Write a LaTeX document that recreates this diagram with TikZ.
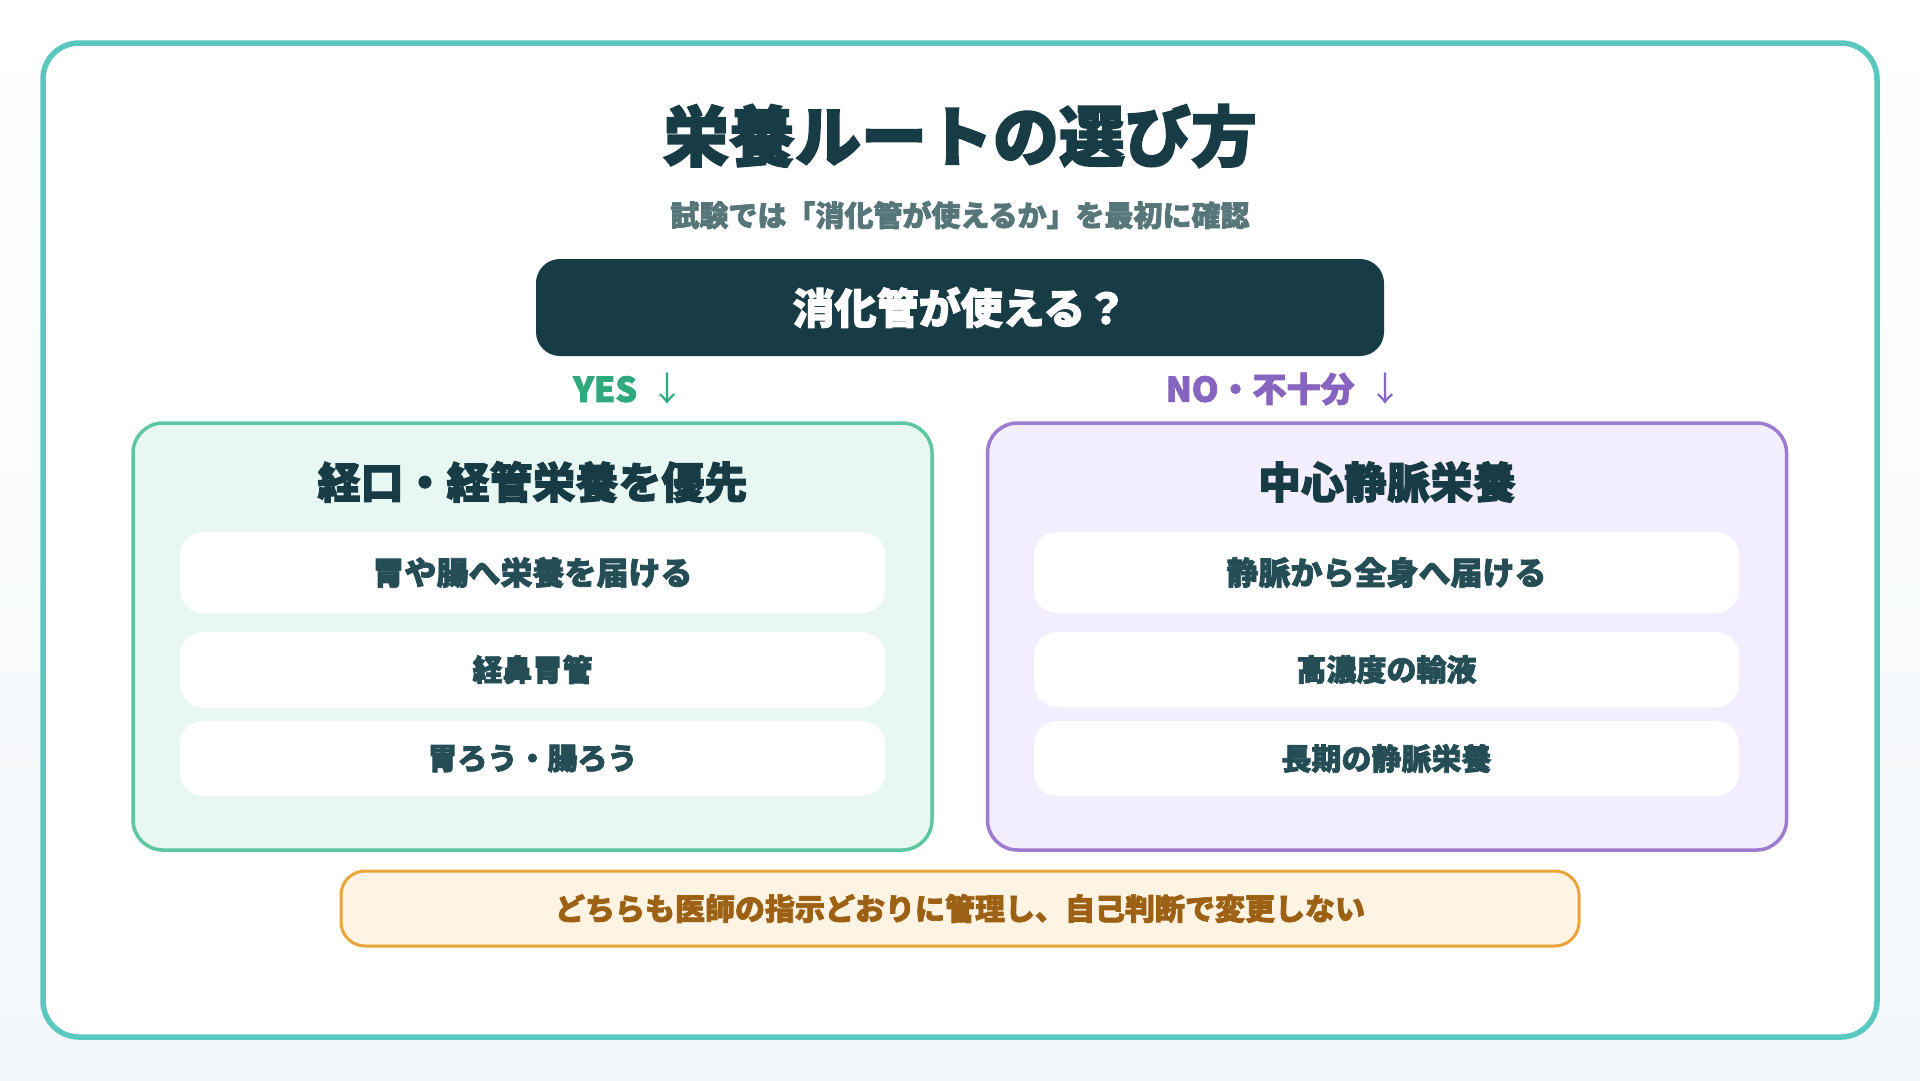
\documentclass[tikz,border=0pt]{standalone}
\usepackage{fontspec}
\setmainfont{Noto Sans CJK JP}[BoldFeatures={FakeBold=2.4}]
\usepackage{tikz}
\usetikzlibrary{positioning}

\definecolor{ink}{HTML}{173C45}
\definecolor{itemink}{HTML}{244D55}
\definecolor{subink}{HTML}{56767A}
\definecolor{frameteal}{HTML}{5BC8C0}
\definecolor{bgbottom}{HTML}{F3F7FA}
\definecolor{yesgreen}{HTML}{2EAA7C}
\definecolor{yesline}{HTML}{5CC7A0}
\definecolor{yesfill}{HTML}{E8F7F1}
\definecolor{nopurple}{HTML}{8664C0}
\definecolor{noline}{HTML}{9C7BD0}
\definecolor{nofill}{HTML}{F3EEFD}
\definecolor{notefill}{HTML}{FFF4E3}
\definecolor{noteline}{HTML}{EBA43C}
\definecolor{noteink}{HTML}{9C6114}

\begin{document}
\begin{tikzpicture}[x=1pt, y=-1pt,
    panel/.style={rounded corners=30pt, line width=3.5pt, minimum width=799pt, minimum height=427pt, inner sep=0pt},
    item/.style={fill=white, rounded corners=23pt, minimum width=705pt, inner sep=0pt, text=itemink,
        font=\bfseries\fontsize{30}{34}\selectfont},
    heading/.style={text=ink, font=\bfseries\fontsize{43}{48}\selectfont},
    branch/.style={font=\bfseries\fontsize{34}{38}\selectfont}]
    \useasboundingbox (0,0) rectangle (1920,1080);
    \fill[top color=white, bottom color=bgbottom] (0,0) rectangle (1920,1080);

    % Outer frame
    \node[draw=frameteal, line width=5.5pt, fill=white, rounded corners=36pt,
        minimum width=1834pt, minimum height=994pt, inner sep=0pt] (frame) at (960,540) {};

    % Title and subtitle
    \node[text=ink, font=\bfseries\fontsize{66}{72}\selectfont] (title) at (960,136) {栄養ルートの選び方};
    \node[text=subink, font=\bfseries\fontsize{29}{32}\selectfont] (sub) at (960,215)
        {試験では「消化管が使えるか」を最初に確認};

    % Question
    \node[fill=ink, rounded corners=24pt, minimum width=848pt, minimum height=97pt, inner sep=0pt,
        text=white, font=\bfseries\fontsize{42}{46}\selectfont] (ask) at (960,307.5) {消化管が使える？};
    \node[branch, text=yesgreen] (yes) at (629,389) {YES\hspace{0.4em}{\mdseries ↓}};
    \node[branch, text=nopurple] (no) at (1284,389) {NO・不十分\hspace{0.4em}{\mdseries ↓}};

    % Left panel - enteral
    \node[panel, draw=yesline, fill=yesfill] (enteral) at (532.5,636.5) {};
    \node[heading] (enteralhead) at (532.5,482) {経口・経管栄養を優先};
    \node[item, minimum height=81pt, font=\bfseries\fontsize{32}{36}\selectfont] (enteral1) at (532.5,572.5) {胃や腸へ栄養を届ける};
    \node[item, minimum height=75pt] (enteral2) at (532.5,669.5) {経鼻胃管};
    \node[item, minimum height=75pt] (enteral3) at (532.5,758.5) {胃ろう・腸ろう};

    % Right panel - parenteral
    \node[panel, draw=noline, fill=nofill] (parenteral) at (1387,636.5) {};
    \node[heading] (parenteralhead) at (1387,482) {中心静脈栄養};
    \node[item, minimum height=81pt, font=\bfseries\fontsize{32}{36}\selectfont] (parenteral1) at (1386.5,572.5) {静脈から全身へ届ける};
    \node[item, minimum height=75pt] (parenteral2) at (1386.5,669.5) {高濃度の輸液};
    \node[item, minimum height=75pt] (parenteral3) at (1386.5,758.5) {長期の静脈栄養};

    % Bottom note
    \node[draw=noteline, line width=3pt, fill=notefill, rounded corners=24pt,
        minimum width=1238pt, minimum height=75pt, inner sep=0pt, text=noteink,
        font=\bfseries\fontsize{30}{34}\selectfont] (note) at (960,908.5)
        {どちらも医師の指示どおりに管理し、自己判断で変更しない};
\end{tikzpicture}
\end{document}
